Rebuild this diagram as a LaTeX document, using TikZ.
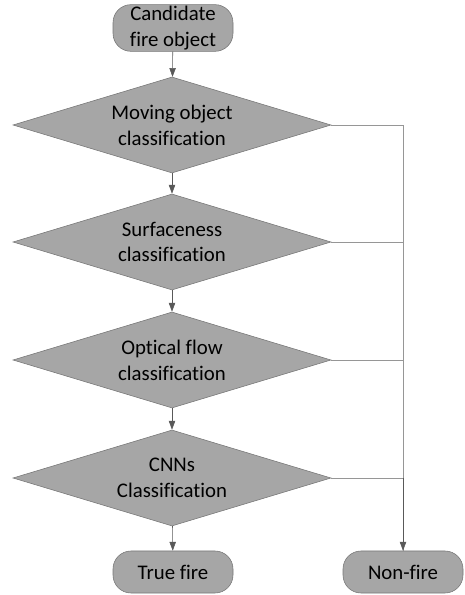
\documentclass[tikz,border=0pt]{standalone}
\usepackage{fontspec}
\setmainfont[Ligatures=NoCommon]{Carlito}
\usetikzlibrary{shapes.geometric,arrows.meta}
\definecolor{boxgray}{RGB}{166,166,166}
\definecolor{edgegray}{RGB}{118,118,118}
\definecolor{linegray}{RGB}{150,150,150}
\definecolor{arrowgray}{RGB}{89,89,89}
\tikzset{
  term/.style={draw=edgegray,fill=boxgray,rounded corners=0.45cm,minimum width=3cm,minimum height=1.05cm,align=center,inner sep=1pt},
  decide/.style={diamond,draw=edgegray,fill=boxgray,aspect=3.3,minimum width=7.95cm,minimum height=2.4cm,align=center,inner sep=1pt},
  flow/.style={draw=arrowgray,thin,-{Triangle[length=2.2mm,width=1.6mm]}},
  side/.style={draw=linegray,thin}
}
\begin{document}
\begin{tikzpicture}[font=\fontsize{14.8}{18.4}\selectfont]
	   \useasboundingbox (0,0) rectangle (11.6,14.875);
	   \node [term] (cand) at (4.325,14.175) {Candidate\\fire object};
	   \node [decide] (moving) at (4.3,11.75) {Moving object\\classification};
	   \node [decide] (surface) at (4.3,8.825) {Surfaceness\\classification};
	   \node [decide] (optical) at (4.3,5.875) {Optical flow\\classification};
	   \node [decide] (cnn) at (4.3,2.925) {CNNs\\Classification};
	   \node [term] (truefire) at (4.325,0.575) {True fire};
	   \node [term] (nonfire) at (10.075,0.575) {Non-fire};
	   \draw [flow] (cand) -- (moving);
	   \draw [flow] (moving) -- (surface);
	   \draw [flow] (surface) -- (optical);
	   \draw [flow] (optical) -- (cnn);
	   \draw [flow] (cnn) -- (truefire);
	   \draw [side] (moving.east) -| (nonfire.north);
	   \draw [side] (surface.east) -- (surface.east -| nonfire.north);
	   \draw [side] (optical.east) -- (optical.east -| nonfire.north);
	   \draw [side] (cnn.east) -- (cnn.east -| nonfire.north);
	   \draw [flow] (cnn.east -| nonfire.north) -- (nonfire.north);
	\end{tikzpicture}
\end{document}
